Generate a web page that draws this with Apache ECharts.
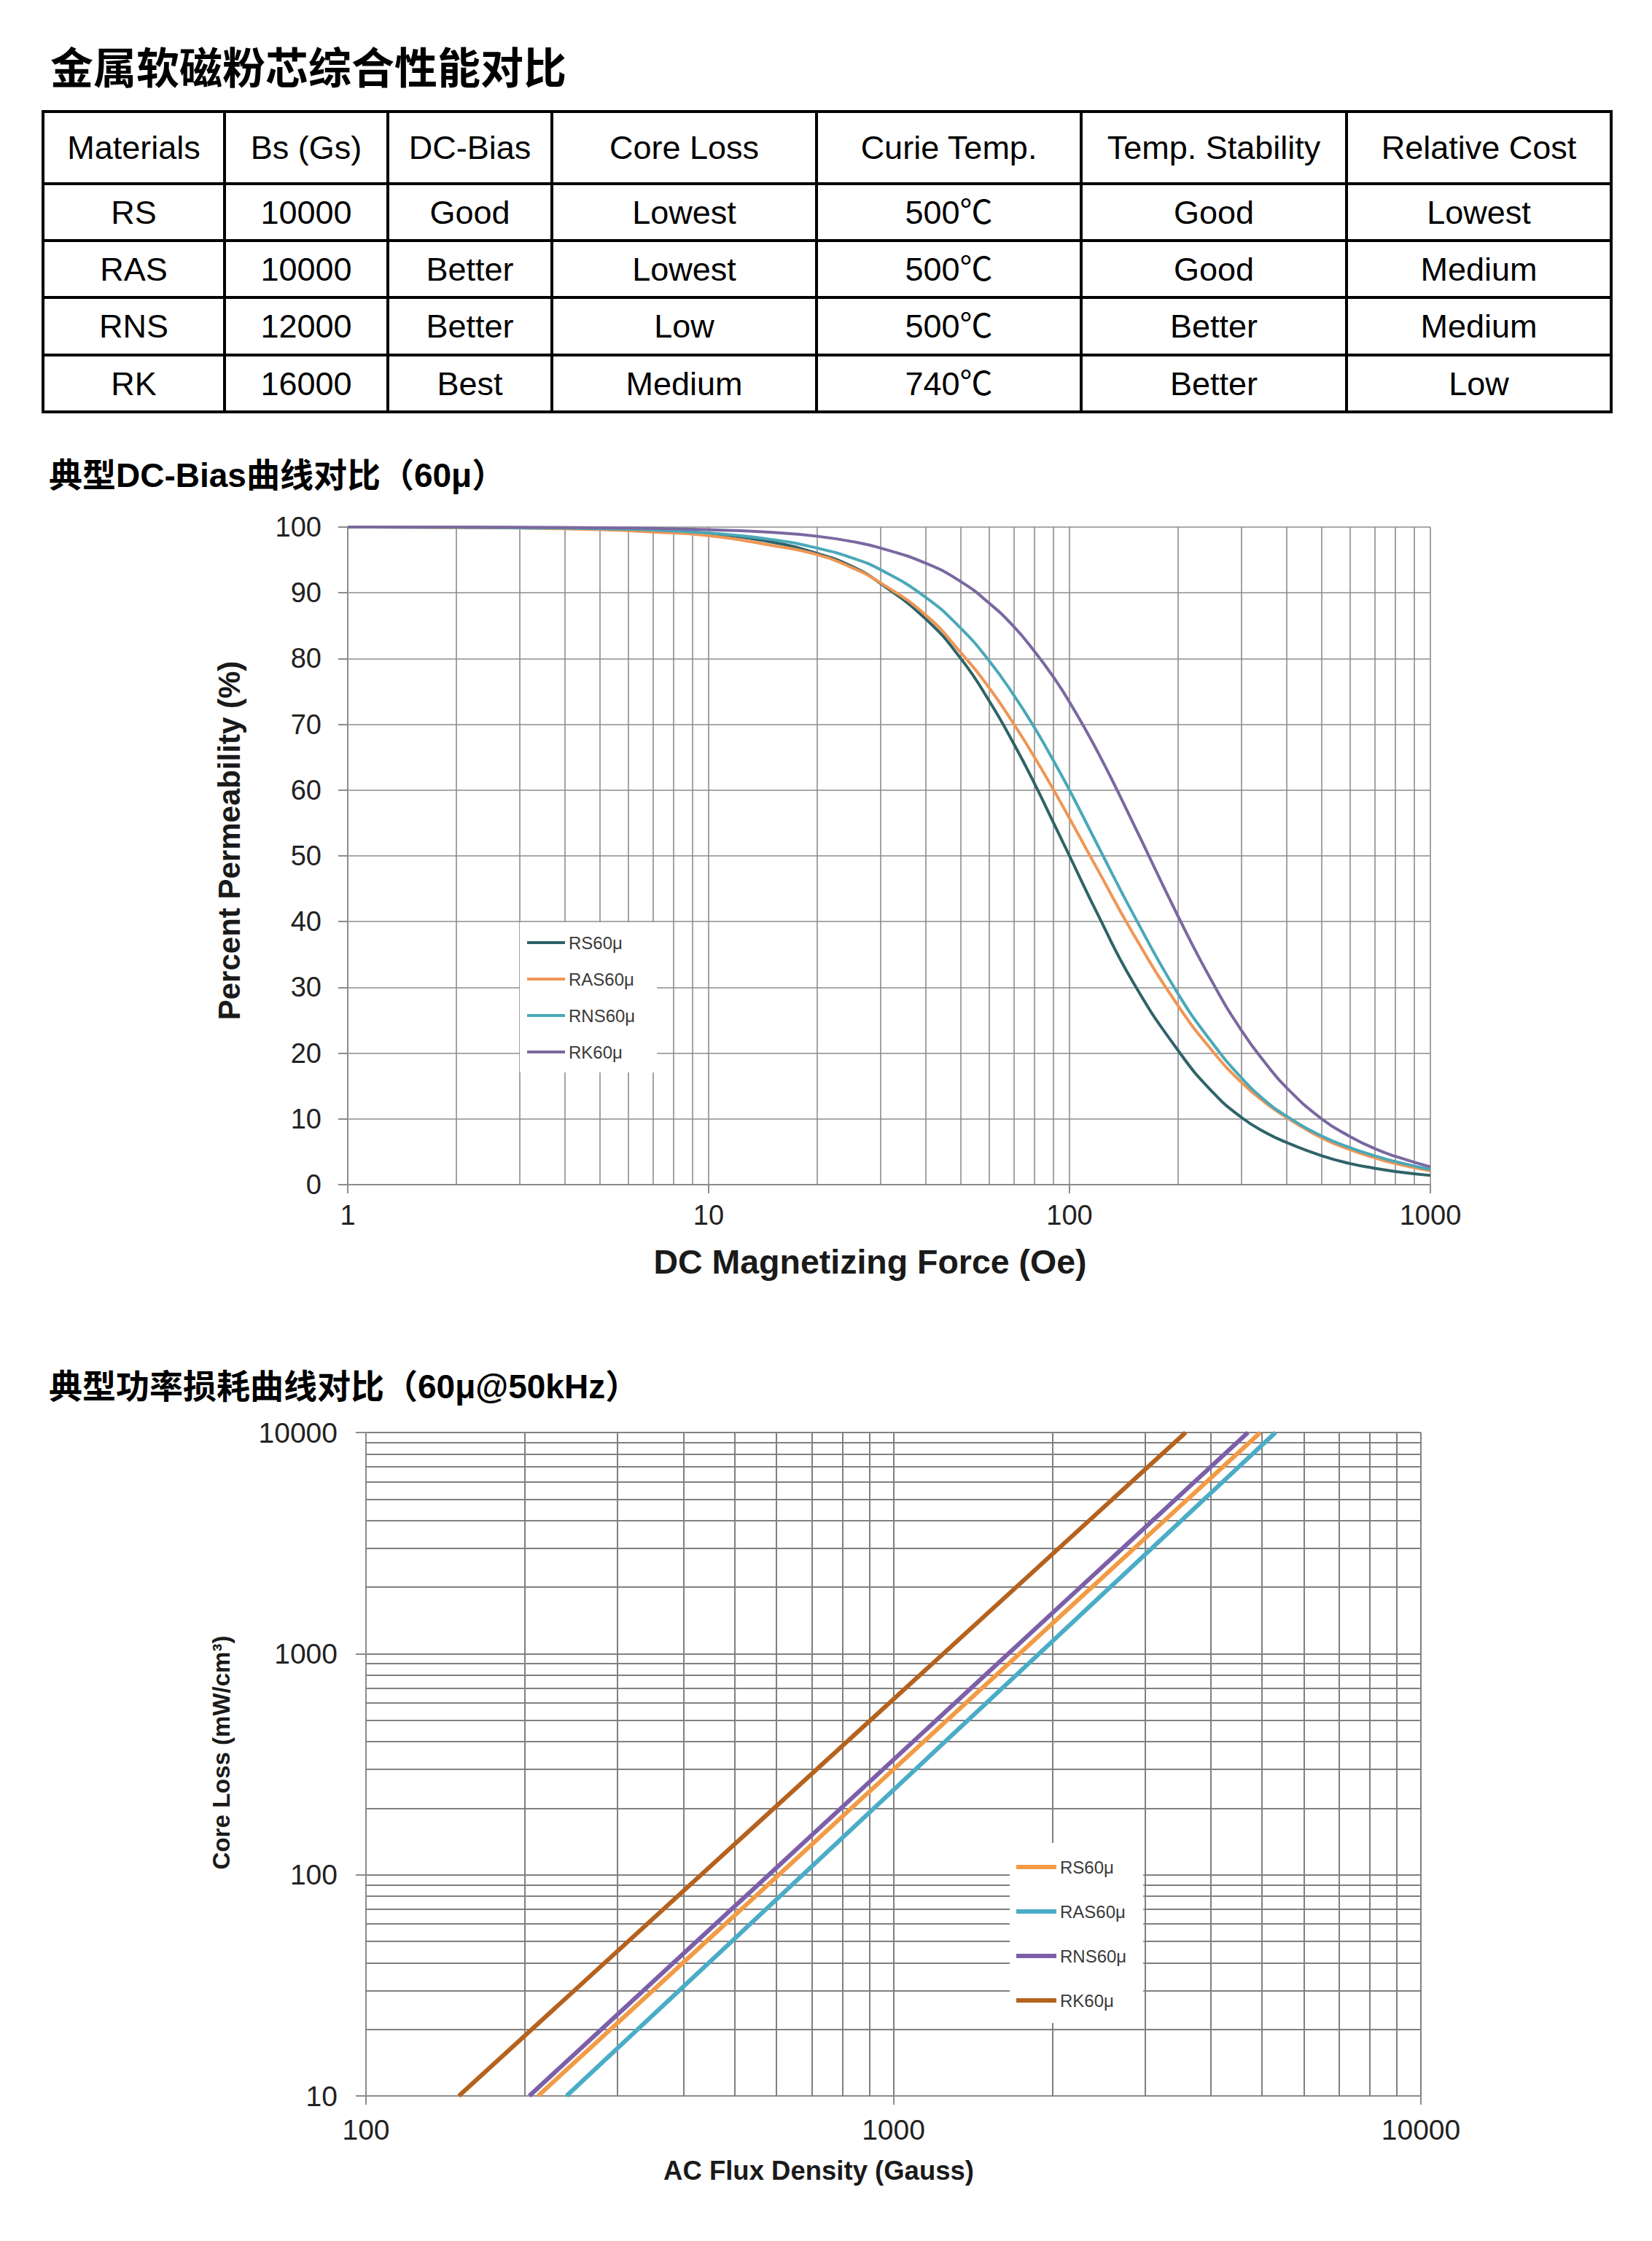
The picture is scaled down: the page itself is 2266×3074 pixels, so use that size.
<!DOCTYPE html>
<html><head><meta charset="utf-8">
<script src="https://cdn.jsdelivr.net/npm/echarts@6/dist/echarts.min.js"></script>
<style>html,body{margin:0;padding:0;background:#fff}#c{width:2266px;height:3074px}</style>
</head><body><div id="c"></div><script>
// ---------- data ----------
const pageTitle = '金属软磁粉芯综合性能对比';
const dcTitle = '典型DC-Bias曲线对比（60μ）';
const clTitle = '典型功率损耗曲线对比（60μ@50kHz）';

const tableHeaders = ['Materials', 'Bs (Gs)', 'DC-Bias', 'Core Loss', 'Curie Temp.', 'Temp. Stability', 'Relative Cost'];
const tableRows = [
  ['RS', '10000', 'Good', 'Lowest', '500℃', 'Good', 'Lowest'],
  ['RAS', '10000', 'Better', 'Lowest', '500℃', 'Good', 'Medium'],
  ['RNS', '12000', 'Better', 'Low', '500℃', 'Better', 'Medium'],
  ['RK', '16000', 'Best', 'Medium', '740℃', 'Better', 'Low']
];

// DC-Bias chart
const dcNames = ['RS60μ', 'RAS60μ', 'RNS60μ', 'RK60μ'];
const dcH   = [1, 2, 3, 5, 7, 10, 15, 20, 25, 30, 40, 50, 60, 70, 80, 90, 100, 120, 150, 200, 250, 300, 350, 400, 500, 600, 700, 800, 1000];
const dcRS  = [100, 99.96, 99.9, 99.75, 99.5, 99.0, 97.7, 96.0, 94.0, 91.4, 86.0, 80.0, 73.5, 67.1, 61.0, 55.2, 50.0, 41.0, 30.8, 20.4, 14.0, 10.2, 7.9, 6.4, 4.4, 3.2, 2.5, 2.0, 1.4];
const dcRAS = [100, 99.95, 99.85, 99.6, 99.25, 98.7, 97.2, 95.8, 93.8, 91.5, 86.6, 80.9, 75.5, 70.1, 65.0, 60.2, 55.7, 47.8, 38.2, 27.2, 20.2, 15.5, 12.4, 10.2, 7.1, 5.3, 4.1, 3.2, 2.1];
const dcRNS = [100, 99.97, 99.9, 99.76, 99.55, 99.1, 98.1, 96.8, 95.3, 93.5, 89.3, 84.6, 79.6, 74.5, 69.5, 64.6, 60.0, 51.5, 41.2, 29.0, 21.4, 16.2, 12.7, 10.4, 7.4, 5.6, 4.4, 3.5, 2.3];
const dcRK  = [100, 99.99, 99.97, 99.9, 99.8, 99.6, 99.2, 98.6, 97.8, 96.8, 94.5, 91.7, 88.4, 84.9, 81.1, 77.3, 73.4, 65.7, 55.0, 40.8, 30.6, 23.4, 18.4, 14.7, 10.0, 7.3, 5.5, 4.3, 2.7];
const dcXTicks = [1, 10, 100, 1000];
const dcYTicks = [0, 10, 20, 30, 40, 50, 60, 70, 80, 90, 100];
const dcXName = 'DC Magnetizing Force (Oe)';
const dcYName = 'Percent Permeability (%)';

// Core loss chart (straight lines on log-log, read at the plot edges)
const clNames = ['RS60μ', 'RAS60μ', 'RNS60μ', 'RK60μ'];
const clRS_B  = [212, 4960];   const clRS_P  = [10, 10000];
const clRAS_B = [240, 5300];   const clRAS_P = [10, 10000];
const clRNS_B = [204, 4700];   const clRNS_P = [10, 10000];
const clRK_B  = [150, 3580];   const clRK_P  = [10, 10000];
const clXTicks = [100, 1000, 10000];
const clYTicks = [10, 100, 1000, 10000];
const clXName = 'AC Flux Density (Gauss)';
const clYName = 'Core Loss (mW/cm³)';

// ---------- styling / layout ----------
const FONT = "'Liberation Sans', Arial, 'Noto Sans CJK SC', sans-serif";
const dcColors = ['#2e6369', '#ef9655', '#4aa8b8', '#7a68a0'];
const clColors = ['#f29b45', '#4bacc6', '#7c5fa8', '#b5621e'];
const grid1Color = '#8c8c8c';
const grid2Color = '#808080';
const colX = [59, 308, 532, 757, 1120, 1483, 1847, 2210];
const rowY = [153, 252, 330, 408, 487, 565];

function zip(a, b) { return a.map((v, i) => [v, b[i]]); }
function minorLines(ticks) {
  const out = [];
  for (let i = 0; i < ticks.length - 1; i++) {
    for (let k = 2; k <= 9; k++) out.push(ticks[i] * k);
  }
  return out;
}

// table graphics
const g = [];
const tableFont = { fontSize: 45, fontFamily: FONT, fill: '#000' };
const allRows = [tableHeaders].concat(tableRows);
allRows.forEach((row, r) => {
  row.forEach((txt, c) => {
    g.push({
      type: 'text',
      x: (colX[c] + colX[c + 1]) / 2,
      y: (rowY[r] + rowY[r + 1]) / 2,
      style: Object.assign({ text: txt, align: 'center', verticalAlign: 'middle' }, tableFont)
    });
  });
});
rowY.forEach(y => g.push({ type: 'line', shape: { x1: colX[0] - 2, y1: y, x2: colX[colX.length - 1] + 2, y2: y }, style: { stroke: '#000', lineWidth: 4 } }));
colX.forEach(x => g.push({ type: 'line', shape: { x1: x, y1: rowY[0], x2: x, y2: rowY[rowY.length - 1] }, style: { stroke: '#000', lineWidth: 4 } }));

const fmt = v => String(Math.round(v));

function dcSeries(i, data) {
  return {
    name: dcNames[i], type: 'line', xAxisIndex: 0, yAxisIndex: 0,
    data: zip(dcH, data), smooth: 0.5, showSymbol: false, symbol: 'none', z: 3,
    lineStyle: { color: dcColors[i], width: 4 }, itemStyle: { color: dcColors[i] },
    animation: false, silent: true
  };
}
function clSeries(i, b, p) {
  return {
    name: clNames[i], type: 'line', xAxisIndex: 1, yAxisIndex: 1,
    data: zip(b, p), showSymbol: false, symbol: 'none', z: 3,
    lineStyle: { color: clColors[i], width: 6 }, itemStyle: { color: clColors[i] },
    animation: false, silent: true
  };
}

const s1 = [dcSeries(0, dcRS), dcSeries(1, dcRAS), dcSeries(2, dcRNS), dcSeries(3, dcRK)];
s1[0].markLine = {
  silent: true, z: 1, symbol: ['none', 'none'], label: { show: false }, animation: false,
  lineStyle: { color: grid1Color, width: 1.6, type: 'solid' }, emphasis: { disabled: true },
  data: minorLines(dcXTicks).map(v => ({ xAxis: v }))
};
const s2 = [clSeries(0, clRS_B, clRS_P), clSeries(1, clRAS_B, clRAS_P), clSeries(2, clRNS_B, clRNS_P), clSeries(3, clRK_B, clRK_P)];
s2[0].markLine = {
  silent: true, z: 1, symbol: ['none', 'none'], label: { show: false }, animation: false,
  lineStyle: { color: grid2Color, width: 2, type: 'solid' }, emphasis: { disabled: true },
  data: minorLines(clXTicks).map(v => ({ xAxis: v })).concat(minorLines(clYTicks).map(v => ({ yAxis: v })))
};

const axisLineStyle = { color: '#8c8c8c', width: 2 };
const option = {
  backgroundColor: '#fff',
  animation: false,
  title: [
    { text: pageTitle, left: 69, top: 65, padding: 0, textStyle: { fontSize: 59, fontWeight: 'bold', fontFamily: FONT, color: '#000' } },
    { text: dcTitle, left: 67, top: 629, padding: 0, textStyle: { fontSize: 46, fontWeight: 'bold', fontFamily: FONT, color: '#000' } },
    { text: clTitle, left: 67, top: 1879, padding: 0, textStyle: { fontSize: 46, fontWeight: 'bold', fontFamily: FONT, color: '#000' } }
  ],
  grid: [
    { left: 477, top: 723, width: 1485, height: 902, containLabel: false },
    { left: 502, top: 1965, width: 1447, height: 910, containLabel: false }
  ],
  legend: [
    {
      orient: 'vertical', left: 713, top: 1265, padding: [16, 30, 16, 10], itemGap: 26,
      itemWidth: 52, itemHeight: 4, icon: 'rect', backgroundColor: '#fff',
      textStyle: { fontSize: 24, lineHeight: 24, color: '#3a3a3a', fontFamily: FONT },
      data: dcNames.map((n, i) => ({ name: n, itemStyle: { color: dcColors[i] } })),
      selectedMode: false
    },
    {
      orient: 'vertical', left: 1385, top: 2528, padding: [21, 23, 19, 9], itemGap: 37,
      itemWidth: 55, itemHeight: 6, icon: 'rect', backgroundColor: '#fff',
      textStyle: { fontSize: 24, lineHeight: 24, color: '#3a3a3a', fontFamily: FONT },
      data: clNames.map((n, i) => ({ name: n, itemStyle: { color: clColors[i] } })),
      selectedMode: false
    }
  ],
  xAxis: [
    {
      type: 'log', logBase: 10, gridIndex: 0, min: dcXTicks[0], max: dcXTicks[dcXTicks.length - 1],
      axisLine: { show: true, onZero: false, lineStyle: axisLineStyle },
      axisTick: { show: true, length: 12, lineStyle: axisLineStyle },
      axisLabel: { margin: 23, formatter: fmt, fontSize: 38, color: '#222', fontFamily: FONT },
      splitLine: { show: true, lineStyle: { color: grid1Color, width: 1.6 } },
      name: dcXName, nameLocation: 'middle', nameGap: 83,
      nameTextStyle: { fontSize: 46.5, fontWeight: 'bold', fontFamily: FONT, color: '#1a1a1a', padding: [0, 52, 0, 0] }
    },
    {
      type: 'log', logBase: 10, gridIndex: 1, min: clXTicks[0], max: clXTicks[clXTicks.length - 1],
      axisLine: { show: true, onZero: false, lineStyle: axisLineStyle },
      axisTick: { show: true, length: 12, lineStyle: axisLineStyle },
      axisLabel: { margin: 27, formatter: fmt, fontSize: 39, color: '#222', fontFamily: FONT },
      splitLine: { show: true, lineStyle: { color: grid2Color, width: 2 } },
      name: clXName, nameLocation: 'middle', nameGap: 84,
      nameTextStyle: { fontSize: 36.5, fontWeight: 'bold', fontFamily: FONT, color: '#1a1a1a', padding: [0, 205, 0, 0] }
    }
  ],
  yAxis: [
    {
      type: 'value', gridIndex: 0, min: dcYTicks[0], max: dcYTicks[dcYTicks.length - 1], interval: dcYTicks[1] - dcYTicks[0],
      axisLine: { show: true, onZero: false, lineStyle: axisLineStyle },
      axisTick: { show: true, length: 13, lineStyle: axisLineStyle },
      axisLabel: { margin: 36, fontSize: 38, color: '#222', fontFamily: FONT },
      splitLine: { show: true, lineStyle: { color: grid1Color, width: 1.6 } },
      name: dcYName, nameLocation: 'middle', nameGap: 142,
      nameTextStyle: { fontSize: 42, fontWeight: 'bold', fontFamily: FONT, color: '#1a1a1a', padding: [0, 0, 0, 42] }
    },
    {
      type: 'log', logBase: 10, gridIndex: 1, min: clYTicks[0], max: clYTicks[clYTicks.length - 1],
      axisLine: { show: true, onZero: false, lineStyle: axisLineStyle },
      axisTick: { show: true, length: 14, lineStyle: axisLineStyle },
      axisLabel: { margin: 39, formatter: fmt, fontSize: 39, color: '#222', fontFamily: FONT },
      splitLine: { show: true, lineStyle: { color: grid2Color, width: 2 } },
      name: clYName, nameLocation: 'middle', nameGap: 182,
      nameTextStyle: { fontSize: 33, fontWeight: 'bold', fontFamily: FONT, color: '#1a1a1a', padding: [0, 0, 0, 32] }
    }
  ],
  graphic: [{ type: 'group', silent: true, children: g }],
  series: s1.concat(s2)
};

const chart = echarts.init(document.getElementById('c'), null, { renderer: 'svg', width: 2266, height: 3074 });
chart.setOption(option);
</script></body></html>
